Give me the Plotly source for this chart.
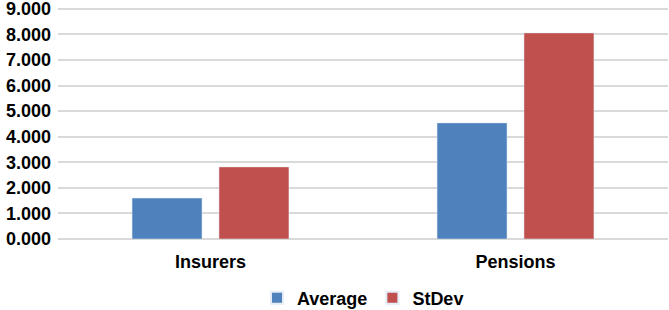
import plotly.graph_objects as go

categories = ["Insurers", "Pensions"]
average = [1.60, 4.54]
stdev = [2.82, 8.06]
tick_vals = [0, 1, 2, 3, 4, 5, 6, 7, 8, 9]
tick_text = ["0.000", "1.000", "2.000", "3.000", "4.000", "5.000", "6.000", "7.000", "8.000", "9.000"]

fig = go.Figure()
fig.add_trace(go.Bar(name="Average", x=categories, y=average, marker_color="#4F81BD"))
fig.add_trace(go.Bar(name="StDev", x=categories, y=stdev, marker_color="#C0504D"))

font_family = "Liberation Sans, Arial, sans-serif"
fig.update_layout(
    width=669, height=310,
    margin=dict(l=58, r=1, t=5, b=71, autoexpand=False),
    paper_bgcolor="white", plot_bgcolor="white",
    barmode="group", bargap=0.43, bargroupgap=0.195,
    font=dict(family=font_family, size=18, color="#000000", weight="bold"),
    showlegend=True,
    legend=dict(orientation="h", x=0.5, xanchor="center", y=-0.252, yanchor="middle",
                font=dict(size=18, family=font_family, weight="bold"), itemsizing="constant"),
    xaxis=dict(showgrid=False, showline=False, ticks="", automargin=False,
               tickfont=dict(size=18, weight="bold"), ticklabelstandoff=10),
    yaxis=dict(range=[0, 9.15], tickvals=tick_vals, ticktext=tick_text, showgrid=True,
               gridcolor="#D9D9D9", gridwidth=2, zeroline=True, zerolinecolor="#D9D9D9",
               zerolinewidth=2, showline=False, ticks="", automargin=False,
               ticklabeloverflow="allow",
               tickfont=dict(size=18, weight="bold"), ticklabelstandoff=6),
)
fig.write_html("out.html", config={"displayModeBar": False},
               post_script="document.body.style.margin='0px';")
